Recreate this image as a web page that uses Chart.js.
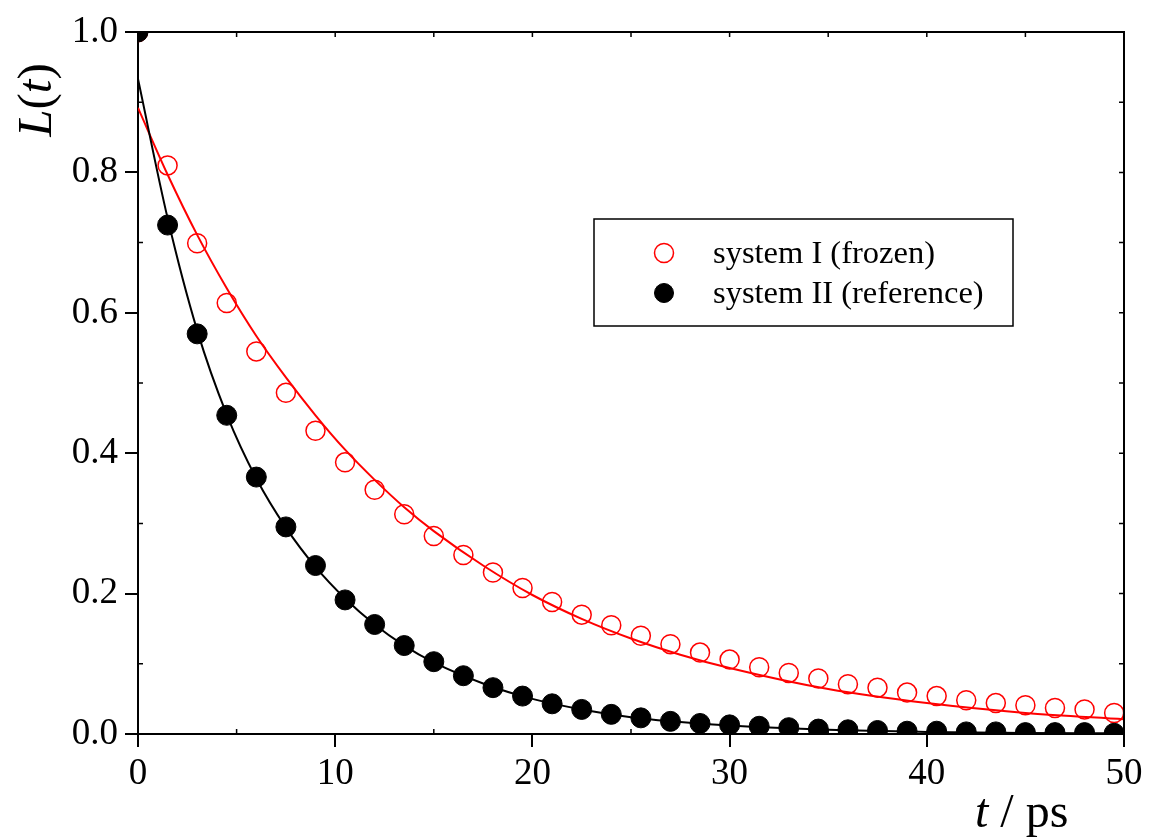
<!DOCTYPE html>
<html>
<head>
<meta charset="utf-8">
<title>L(t)</title>
<script src="https://cdn.jsdelivr.net/npm/chart.js@4.4.1/dist/chart.umd.min.js"></script>
<style>
  body { margin: 0; background: #fff; }
  #my-chart { display: block; }
</style>
</head>
<body>
<canvas id="my-chart" width="1159" height="837"></canvas>
<script>
'use strict';

// simulation points, every 1.5 ps
let timePoints = [0, 1.5, 3, 4.5, 6, 7.5, 9, 10.5, 12, 13.5, 15, 16.5, 18, 19.5, 21, 22.5, 24, 25.5,
  27, 28.5, 30, 31.5, 33, 34.5, 36, 37.5, 39, 40.5, 42, 43.5, 45, 46.5, 48, 49.5];

let frozenValues = [1.0, 0.810, 0.699, 0.614, 0.545, 0.486, 0.432, 0.387, 0.348, 0.313, 0.282, 0.255,
  0.230, 0.208, 0.188, 0.170, 0.155, 0.140, 0.128, 0.116, 0.106, 0.095, 0.087, 0.079, 0.071, 0.066,
  0.059, 0.054, 0.048, 0.044, 0.041, 0.037, 0.035, 0.030];

let referenceValues = [1.0, 0.725, 0.570, 0.454, 0.366, 0.295, 0.240, 0.191, 0.156, 0.126, 0.103, 0.083,
  0.066, 0.054, 0.043, 0.035, 0.028, 0.023, 0.018, 0.015, 0.013, 0.011, 0.009, 0.007, 0.006, 0.005,
  0.004, 0.004, 0.003, 0.003, 0.002, 0.002, 0.002, 0.001];

// fitted curves
let fitTimes = [0, 1.5, 3, 4.5, 6, 7.5, 9, 10.5, 12, 13.5, 15, 17.5, 20, 22.5, 25, 27.5, 30, 35, 40, 45, 50];
let frozenFit = [0.892, 0.797, 0.711, 0.635, 0.567, 0.508, 0.454, 0.405, 0.362, 0.323, 0.289, 0.240,
  0.198, 0.164, 0.136, 0.113, 0.094, 0.064, 0.044, 0.030, 0.021];
let referenceFit = [0.933, 0.735, 0.575, 0.455, 0.364, 0.294, 0.238, 0.193, 0.156, 0.126, 0.102, 0.072,
  0.050, 0.035, 0.024, 0.017, 0.012, 0.006, 0.003, 0.0015, 0.001];

let seriesLabels = ['system I (frozen)', 'system II (reference)'];
let xTicks = [0, 10, 20, 30, 40, 50];
let yTicks = [0.0, 0.2, 0.4, 0.6, 0.8, 1.0];

let serif = 'Liberation Serif, Times New Roman, serif';

function toXY(xs, ys) {
  let pts = [];
  for (let i = 0; i < xs.length; i++) {
    pts.push({ x: xs[i], y: ys[i] });
  }
  return pts;
}

// frame, minor ticks, axis titles and legend box
let decorations = {
  id: 'decorations',
  afterDraw(chart) {
    let ctx = chart.ctx;
    let area = chart.chartArea;
    let xs = chart.scales.x;
    let ys = chart.scales.y;

    ctx.save();
    ctx.strokeStyle = '#000';
    ctx.lineWidth = 2;
    ctx.beginPath();
    ctx.moveTo(area.left, area.top);
    ctx.lineTo(area.right, area.top);
    ctx.lineTo(area.right, area.bottom);
    ctx.stroke();

    // small inward ticks
    ctx.lineWidth = 1.5;
    ctx.beginPath();
    for (let t = 5; t < 50; t += 5) {
      let px = xs.getPixelForValue(t);
      ctx.moveTo(px, area.top);
      ctx.lineTo(px, area.top + 5);
      if (t % 10 !== 0) {
        ctx.moveTo(px, area.bottom);
        ctx.lineTo(px, area.bottom - 5);
      }
    }
    for (let k = 1; k < 10; k++) {
      let py = ys.getPixelForValue(k / 10);
      ctx.moveTo(area.right, py);
      ctx.lineTo(area.right - 5, py);
      if (k % 2 === 1) {
        ctx.moveTo(area.left, py);
        ctx.lineTo(area.left + 5, py);
      }
    }
    ctx.stroke();

    // y title L(t)
    ctx.fillStyle = '#000';
    ctx.textBaseline = 'alphabetic';
    ctx.textAlign = 'left';
    let parts = [['L', 'italic'], ['(', 'normal'], ['t', 'italic'], [')', 'normal']];
    let total = 0;
    for (let p of parts) {
      ctx.font = p[1] + ' 49px ' + serif;
      total += ctx.measureText(p[0]).width;
    }
    ctx.save();
    ctx.translate(51, 100);
    ctx.rotate(-Math.PI / 2);
    let cx = -total / 2;
    for (let p of parts) {
      ctx.font = p[1] + ' 49px ' + serif;
      ctx.fillText(p[0], cx, 0);
      cx += ctx.measureText(p[0]).width;
    }
    ctx.restore();

    // x title t / ps
    ctx.font = 'italic 48px ' + serif;
    ctx.fillText('t', 975, 827);
    let tw = ctx.measureText('t').width;
    ctx.font = '48px ' + serif;
    ctx.fillText(' / ps', 975 + tw, 827);

    // legend
    let box = { left: 594, top: 219, width: 419, height: 107 };
    ctx.fillStyle = '#fff';
    ctx.fillRect(box.left, box.top, box.width, box.height);
    ctx.strokeStyle = '#000';
    ctx.lineWidth = 1.5;
    ctx.strokeRect(box.left, box.top, box.width, box.height);
    let markers = [chart.data.datasets[1], chart.data.datasets[0]];
    ctx.font = '32.5px ' + serif;
    for (let i = 0; i < markers.length; i++) {
      let ds = markers[i];
      let my = 253 + i * 40;
      ctx.beginPath();
      ctx.arc(664, my, 9.5, 0, Math.PI * 2);
      if (ds.pointBackgroundColor !== 'transparent') {
        ctx.fillStyle = ds.pointBackgroundColor;
        ctx.fill();
      }
      ctx.strokeStyle = ds.pointBorderColor;
      ctx.lineWidth = ds.pointBorderWidth;
      ctx.stroke();
      ctx.fillStyle = '#000';
      ctx.fillText(ds.label, 713, my + 10);
    }
    ctx.restore();
  }
};

let canvasElem = document.getElementById('my-chart');

let chartObj = {
  type: 'scatter',
  data: {
    datasets: [{
      label: seriesLabels[1],
      data: toXY(timePoints, referenceValues),
      pointRadius: 10,
      pointBackgroundColor: '#000',
      pointBorderColor: '#000',
      pointBorderWidth: 1,
      showLine: false,
      clip: 0
    },
    {
      label: seriesLabels[0],
      data: toXY(timePoints, frozenValues),
      pointRadius: 9.5,
      pointBackgroundColor: 'transparent',
      pointBorderColor: '#ff0000',
      pointBorderWidth: 1.5,
      showLine: false,
      clip: 0
    },
    {
      data: toXY(fitTimes, referenceFit),
      showLine: true,
      borderColor: '#000',
      borderWidth: 2,
      pointRadius: 0,
      cubicInterpolationMode: 'monotone',
      clip: 0
    },
    {
      data: toXY(fitTimes, frozenFit),
      showLine: true,
      borderColor: '#ff0000',
      borderWidth: 2,
      pointRadius: 0,
      cubicInterpolationMode: 'monotone',
      clip: 0
    }]
  },
  options: {
    responsive: false,
    animation: false,
    events: [],
    layout: {
      padding: { top: 32, right: 35, left: 0, bottom: 0 }
    },
    plugins: {
      legend: { display: false },
      tooltip: { enabled: false }
    },
    scales: {
      x: {
        type: 'linear',
        min: 0,
        max: 50,
        afterBuildTicks(scale) {
          scale.ticks = xTicks.map(v => ({ value: v }));
        },
        ticks: {
          color: '#000',
          font: { family: serif, size: 37 },
          padding: 5,
          maxRotation: 0
        },
        grid: {
          drawOnChartArea: false,
          tickLength: 13,
          color: '#000',
          lineWidth: 2
        },
        border: { color: '#000', width: 2 },
        afterFit(scale) {
          scale.height = 103;
        }
      },
      y: {
        min: 0,
        max: 1,
        afterBuildTicks(scale) {
          scale.ticks = yTicks.map(v => ({ value: v }));
        },
        ticks: {
          color: '#000',
          font: { family: serif, size: 37 },
          padding: 7,
          callback: v => v.toFixed(1)
        },
        grid: {
          drawOnChartArea: false,
          tickLength: 13,
          color: '#000',
          lineWidth: 2
        },
        border: { color: '#000', width: 2 },
        afterFit(scale) {
          scale.width = 138;
        }
      }
    }
  },
  plugins: [decorations]
};

new Chart(canvasElem, chartObj); //eslint-disable-line
</script>
</body>
</html>
